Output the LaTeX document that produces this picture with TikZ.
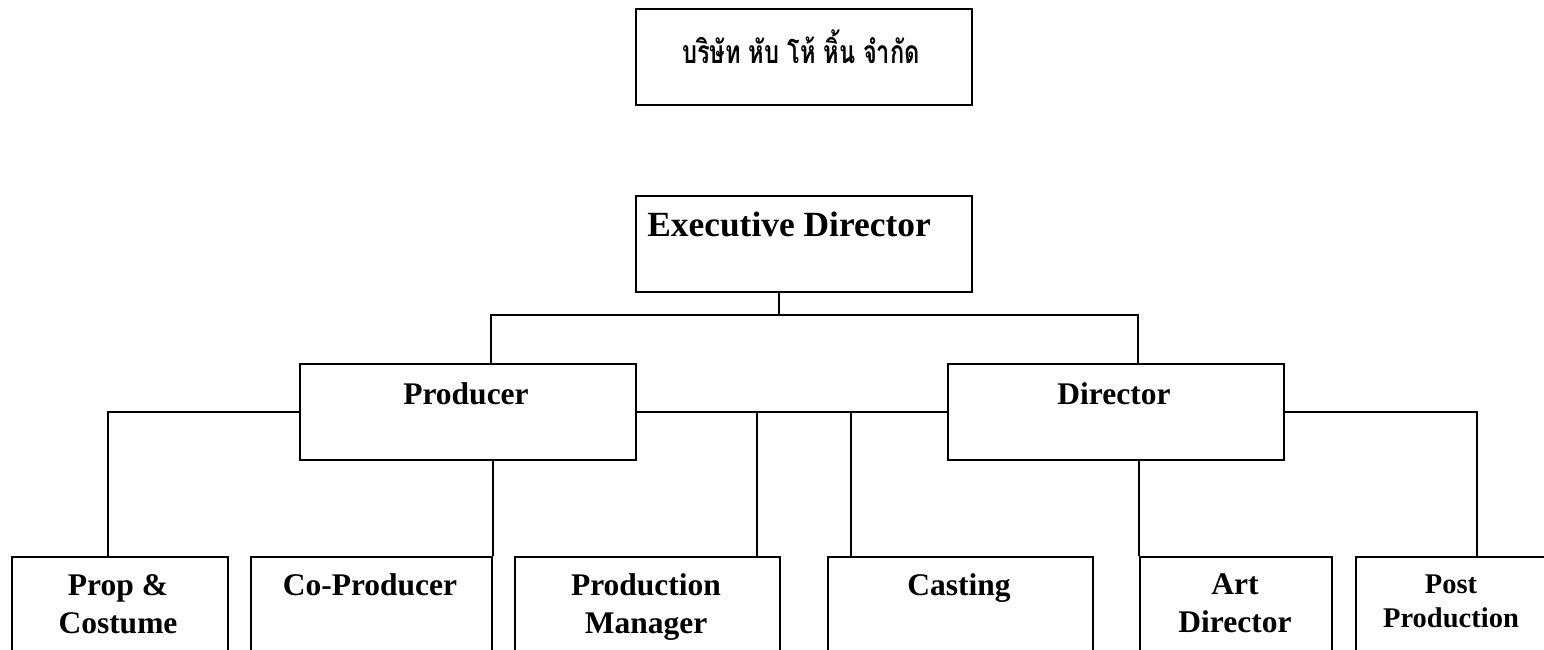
\documentclass[tikz,border=0pt]{standalone}
\usepackage{fontspec}
\setmainfont{Liberation Serif}
\newfontfamily\thaifont[Script=Thai]{Loma}
\begin{document}
\begin{tikzpicture}[x=1pt,y=-1pt,
  box/.style={draw, line width=2.2pt, rectangle, inner sep=0pt, anchor=north west},
  lbl/.style={font=\bfseries\fontsize{31.5}{38}\selectfont, align=center, anchor=base, inner sep=0pt},
  smalllbl/.style={lbl, font=\bfseries\fontsize{28.5}{34}\selectfont},
  conn/.style={line width=2.2pt}]
\useasboundingbox (0,0) rectangle (1544,650);
\clip (0,0) rectangle (1544,650);
% boxes
\node[box, minimum width=336pt, minimum height=96pt] (top) at (635,8) {};
\node[box, minimum width=336pt, minimum height=96pt] (exec) at (635,195) {};
\node[box, minimum width=336pt, minimum height=96pt] (prod) at (299,363) {};
\node[box, minimum width=336pt, minimum height=96pt] (dir) at (947,363) {};
\node[box, minimum width=216pt, minimum height=120pt] (prop) at (11,556) {};
\node[box, minimum width=241pt, minimum height=120pt] (copro) at (250,556) {};
\node[box, minimum width=265pt, minimum height=120pt] (pm) at (514,556) {};
\node[box, minimum width=265pt, minimum height=120pt] (cast) at (827,556) {};
\node[box, minimum width=192pt, minimum height=120pt] (art) at (1139,556) {};
\node[box, minimum width=193pt, minimum height=120pt] (post) at (1355,556) {};
% texts
\node[lbl, anchor=center, font=\thaifont\bfseries\fontsize{23.6}{28}\selectfont] (ttop) at (801,47) {\scalebox{1}[1.35]{บริษัท หับ โห้ หิ้น จำกัด}};
\node[lbl, font=\bfseries\fontsize{35.4}{42}\selectfont] (texec) at (789,236) {Executive Director};
\node[lbl] (tprod) at (466,404) {Producer};
\node[lbl] (tdir) at (1114,404) {Director};
\node[lbl] (tprop) at (118,633) {Prop \&\\Costume};
\node[lbl] (tcopro) at (370,595) {Co-Producer};
\node[lbl] (tpm) at (646,633) {Production\\Manager};
\node[lbl] (tcast) at (959,595) {Casting};
\node[lbl] (tart) at (1235,632) {Art\\Director};
\node[smalllbl] (tpost) at (1451,627) {Post\\Production};
% connectors
\coordinate (busE) at (779,315);
\coordinate (busP) at (491,315);
\coordinate (busD) at (1138,315);
\draw[conn] (exec.south -| busE) -- (busE);
\draw[conn] (prod.north -| busP) -- (busP) -- (busD) -- (dir.north -| busD);
\draw[conn] (prod.west) -| ([xshift=-12pt]prop.north);
\draw[conn] (prod.south -| copro.north east) -- (copro.north east);
\draw[conn] (prod.east) -- (dir.west);
\draw[conn] ([xshift=-24pt]pm.north east) |- (prod.east);
\draw[conn] ([xshift=24pt]cast.north west) |- (dir.west);
\draw[conn] (dir.south -| art.north west) -- (art.north west);
\draw[conn] (dir.east) -| ([xshift=-73pt]post.north east);
\end{tikzpicture}
\end{document}
